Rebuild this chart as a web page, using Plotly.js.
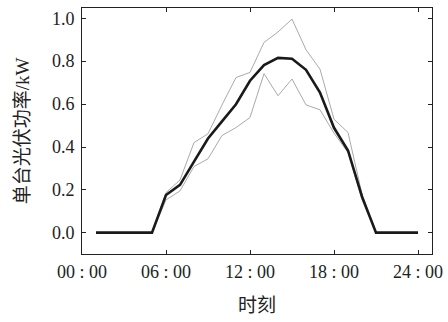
<!DOCTYPE html>
<html>
<head>
<meta charset="utf-8">
<script src="https://cdn.plot.ly/plotly-3.0.1.min.js"></script>
<style>
html,body{margin:0;padding:0;background:#fff;}
#chart{width:448px;height:322px;}
</style>
</head>
<body>
<div id="chart"></div>
<script>
const hours = [1,2,3,4,5,6,7,8,9,10,11,12,13,14,15,16,17,18,19,20,21,22,23,24];
const meanPower  = [0,0,0,0,0,0.176,0.223,0.332,0.440,0.520,0.600,0.710,0.783,0.817,0.813,0.761,0.655,0.490,0.384,0.168,0,0,0,0];
const upperPower = [0,0,0,0,0,0.187,0.246,0.421,0.462,0.597,0.725,0.749,0.889,0.938,0.998,0.855,0.764,0.530,0.468,0.180,0,0,0,0];
const lowerPower = [0,0,0,0,0,0.153,0.195,0.309,0.345,0.454,0.491,0.538,0.743,0.640,0.718,0.597,0.574,0.465,0.374,0.153,0,0,0,0];
const xTickVals = [0,6,12,18,24];
const xTickText = ["00 : 00","06 : 00","12 : 00","18 : 00","24 : 00"];
const yTickVals = [0,0.2,0.4,0.6,0.8,1.0];
const yTickText = ["0.0","0.2","0.4","0.6","0.8","1.0"];

const fontFam = "Liberation Serif, 'Noto Sans CJK SC', serif";
const tickFont = {family: 'Liberation Serif', size: 18, color: '#222'};

const traces = [
  {x: hours, y: upperPower, mode: 'lines', line: {color: '#aaaaaa', width: 1}, hoverinfo: 'skip'},
  {x: hours, y: lowerPower, mode: 'lines', line: {color: '#aaaaaa', width: 1}, hoverinfo: 'skip'},
  {x: hours, y: meanPower, mode: 'lines', line: {color: '#1a1a1a', width: 2.6}, hoverinfo: 'skip'}
];

const axisCommon = {
  showline: true, linecolor: '#222', linewidth: 1, mirror: 'ticks',
  ticks: 'inside', ticklen: 4, tickwidth: 1, tickcolor: '#222',
  showgrid: false, zeroline: false, showticklabels: false
};

const annotations = [];
xTickVals.forEach((v, i) => annotations.push({
  x: v, xref: 'x', y: 0, yref: 'paper', yanchor: 'top', xanchor: 'center',
  yshift: -6, text: xTickText[i], showarrow: false, font: tickFont
}));
yTickVals.forEach((v, i) => annotations.push({
  x: 0, xref: 'paper', y: v, yref: 'y', xanchor: 'right', yanchor: 'middle',
  xshift: -5, text: yTickText[i], showarrow: false, font: tickFont
}));

const layout = {
  width: 448, height: 322,
  margin: {l: 82, r: 16, t: 8, b: 68},
  paper_bgcolor: '#fff', plot_bgcolor: '#fff',
  showlegend: false,
  font: {family: fontFam, size: 18, color: '#222'},
  xaxis: Object.assign({}, axisCommon, {
    range: [0, 25], tickvals: xTickVals,
    title: {text: '时刻', font: {family: fontFam, size: 19, color: '#222'}, standoff: 44}
  }),
  yaxis: Object.assign({}, axisCommon, {
    range: [-0.1, 1.05], tickvals: yTickVals,
    title: {text: '单台光伏功率/kW', font: {family: fontFam, size: 19, color: '#222'}, standoff: 46}
  }),
  annotations: annotations
};

Plotly.newPlot('chart', traces, layout, {staticPlot: true, displayModeBar: false});
</script>
</body>
</html>
